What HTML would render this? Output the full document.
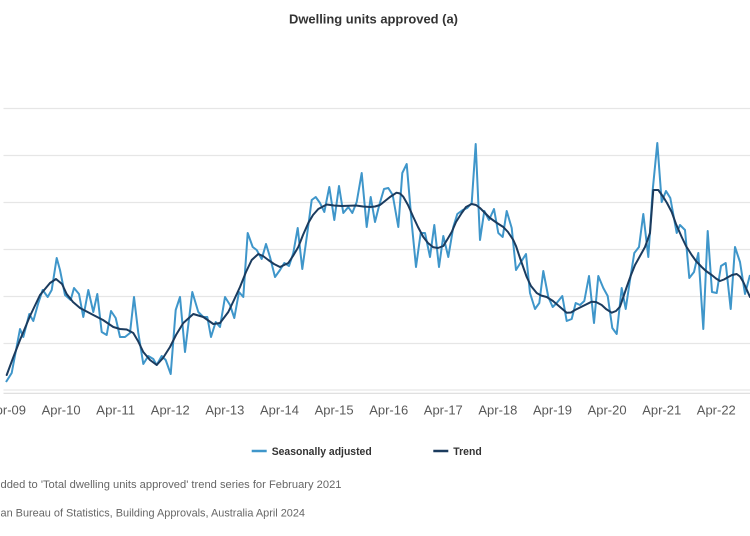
<!DOCTYPE html>
<html>
<head>
<meta charset="utf-8">
<style>
html,body{margin:0;padding:0;background:#fff;}
svg{display:block;}
text{font-family:"Liberation Sans",Arial,sans-serif;}
</style>
</head>
<body>
<svg width="750" height="536" viewBox="0 0 750 536" xmlns="http://www.w3.org/2000/svg">
<rect width="750" height="536" fill="#fff"/>
<text x="373.5" y="23.5" text-anchor="middle" font-size="13" font-weight="bold" fill="#333" textLength="169" lengthAdjust="spacingAndGlyphs">Dwelling units approved (a)</text>
<g stroke="#e6e6e6" stroke-width="1.2">
<line x1="3.5" y1="108.5" x2="750" y2="108.5"/>
<line x1="3.5" y1="155.5" x2="750" y2="155.5"/>
<line x1="3.5" y1="202.5" x2="750" y2="202.5"/>
<line x1="3.5" y1="249.5" x2="750" y2="249.5"/>
<line x1="3.5" y1="296.5" x2="750" y2="296.5"/>
<line x1="3.5" y1="343.5" x2="750" y2="343.5"/>
<line x1="3.5" y1="390" x2="750" y2="390"/>
<line x1="3.5" y1="393.3" x2="750" y2="393.3" stroke="#dcdcdc"/>
</g>
<polyline fill="none" stroke="#3f96ca" stroke-width="2" stroke-linejoin="round" points="
6,382 11.7,373 20,329 23.3,337 29.3,314 33.3,321 38.3,303 42.7,290 47.7,297 51.7,290 56.7,258 60,270 65,295 70.7,300 74,288 79,294 83.3,317 88.3,290 93.3,312 97.3,294 101.7,332 106.7,335 111,311 115.7,318 120,337 125,337 130,333 134,297 138.3,333 143.3,364 148.3,356 153.3,359 156.7,365 161.7,356 165.7,360 170.7,374 175.7,310 180,297 185,352 192.3,292 198.3,312 203.3,317 207.3,317 211,337 215.7,322 220,327 225,297 230,305 234.3,318 239,292 243.3,297 247.7,233 252.7,247 256.7,250 261.7,259 266,244 270,257 275,277 280,270 284.3,263 289,266 293.3,253 297.7,228 302.3,269 307.3,233 311.7,200 315.7,197 320,203 324.3,212 329.3,187 334.3,220 339,186 343.3,213 348.3,207 352.3,213 356.7,202 361.7,173 366.7,227 370.7,197 375,222 379.3,205 384,189 388.3,188 392.7,195 398.3,227 402.3,173 406.7,164 411.7,223 416,267 420.7,233 425,233 430,257 434.3,225 439,267 443.3,236 448.3,257 453.3,227 457.3,214 462.7,210 467.3,208 471.7,203 475.7,144 480,240 484.3,211 489,220 494,209 498.3,233 502.7,237 506.7,211 511.7,228 516,270 521,262 526,254 530,293 535,309 539.3,303 543.3,271 548.3,297 552.7,307 556.7,303 562.3,296 566.7,321 571.7,319 575.7,303 580,305 584.3,301 589,276 594,323 598.3,276 603.3,288 607.7,296 612.3,328 616.7,334 621.7,288 625.7,309 630,280 634.3,253 639,247 643.3,214 648.3,257 652.7,190 657.3,143 661.7,202 666,191 670.3,198 676.7,233 680,225 685,230 689.3,278 694,272 698.3,253 703.3,329 707.7,231 712,292 716.7,293 721,266 725.7,263 730.7,309 735,247 740,262 745,294 750,275"/>
<polyline fill="none" stroke="#1b3b5e" stroke-width="2" stroke-linejoin="round" stroke-linecap="round" points="
6.7,375 13,358 20,340 30,316 40,295 50,283 56,279 62,284 66.7,294 73,302 80,308 93.3,315 103,320 113.3,327 120,329 126.7,329.5 133.3,333 138,341 143.3,352 150,360 156.7,365 163,358 170,347 176,335 183.3,323 193.3,314 203.3,317 213.3,324 220,323 228.3,312 234,300 240,287 246,272 251.7,260 258.3,254 263,256 268.3,260 274,264 280,267 288.3,263 293,256 298.3,247 303,235 308.3,223 313,215 318.3,209 326.7,204.5 334,205.5 341.7,206 356,205.5 363,206.5 370,207 375,206.5 380,205 385,201 390,197 396.5,192.7 400,193.5 403.3,196.7 408,205 413.3,217 418,227 423.3,237 428,243 433.3,247.3 438,248 443.3,246 447,240 451.7,232 456,222 461.7,213 466,207 471.7,204 476,205 480,208 485,213 490,218 497,223 503.3,227 508,232 513.3,240 516,246 520,258 526.7,277 531,286 536.7,293 541,295.5 546.7,297 553,301 560,307 566.7,312.7 571,312.5 575,310 583,306 591.7,301.7 596,302 601.7,305 606,309 611.7,312.7 616,311 620,306.7 623,298 626.7,287 631,275 635,265 640,256 645,247 650,233 653.3,190 658.3,190 663.3,197 667,203 671.7,212 676,224 681.7,237 686,246 691.7,255 696,261 701.7,267 706,271 711.7,275 716,278.5 720,281 724,279.5 728.3,277 732,275 736.7,274 740,276.5 743.3,282 746,288 750,297"/>
<g font-size="13" fill="#595959" text-anchor="middle">
<text x="6.5" y="414.5" textLength="39" lengthAdjust="spacingAndGlyphs">Apr-09</text>
<text x="61.1" y="414.5" textLength="39" lengthAdjust="spacingAndGlyphs">Apr-10</text>
<text x="115.7" y="414.5" textLength="39" lengthAdjust="spacingAndGlyphs">Apr-11</text>
<text x="170.3" y="414.5" textLength="39" lengthAdjust="spacingAndGlyphs">Apr-12</text>
<text x="224.9" y="414.5" textLength="39" lengthAdjust="spacingAndGlyphs">Apr-13</text>
<text x="279.5" y="414.5" textLength="39" lengthAdjust="spacingAndGlyphs">Apr-14</text>
<text x="334.1" y="414.5" textLength="39" lengthAdjust="spacingAndGlyphs">Apr-15</text>
<text x="388.7" y="414.5" textLength="39" lengthAdjust="spacingAndGlyphs">Apr-16</text>
<text x="443.3" y="414.5" textLength="39" lengthAdjust="spacingAndGlyphs">Apr-17</text>
<text x="497.9" y="414.5" textLength="39" lengthAdjust="spacingAndGlyphs">Apr-18</text>
<text x="552.5" y="414.5" textLength="39" lengthAdjust="spacingAndGlyphs">Apr-19</text>
<text x="607.1" y="414.5" textLength="39" lengthAdjust="spacingAndGlyphs">Apr-20</text>
<text x="661.7" y="414.5" textLength="39" lengthAdjust="spacingAndGlyphs">Apr-21</text>
<text x="716.3" y="414.5" textLength="39" lengthAdjust="spacingAndGlyphs">Apr-22</text>
</g>
<line x1="251.7" y1="451" x2="266.7" y2="451" stroke="#3f96ca" stroke-width="2.5"/>
<text x="271.7" y="455" font-size="11" font-weight="bold" fill="#333" textLength="100" lengthAdjust="spacingAndGlyphs">Seasonally adjusted</text>
<line x1="433.3" y1="451" x2="448.3" y2="451" stroke="#1b3b5e" stroke-width="2.5"/>
<text x="453.3" y="455" font-size="11" font-weight="bold" fill="#333" textLength="28.4" lengthAdjust="spacingAndGlyphs">Trend</text>
<text x="0.5" y="488" font-size="11" fill="#666" textLength="341" lengthAdjust="spacingAndGlyphs">dded to 'Total dwelling units approved' trend series for February 2021</text>
<text x="0.5" y="516.5" font-size="11" fill="#666" textLength="304.5" lengthAdjust="spacingAndGlyphs">an Bureau of Statistics, Building Approvals, Australia April 2024</text>
</svg>
</body>
</html>
